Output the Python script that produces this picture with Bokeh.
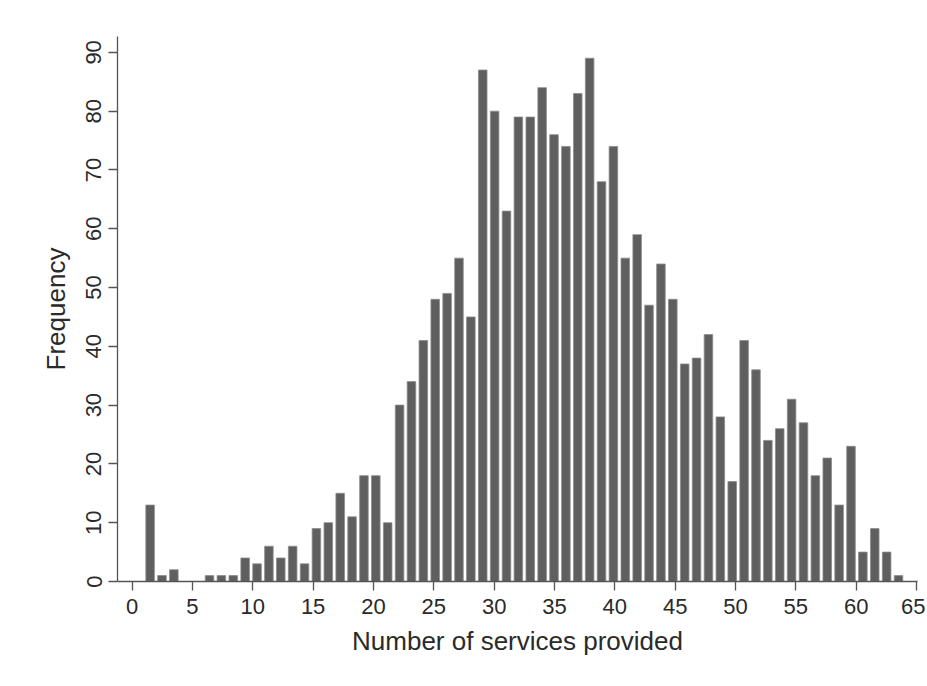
from bokeh.plotting import figure
from bokeh.models import FixedTicker, Range1d, ColumnDataSource
from bokeh.embed import file_html
from bokeh.resources import INLINE

# Histogram of "Number of services provided": 64 bins between min=1 and max=64
data_min = 1
data_max = 64
n_bins = 64
counts = [13, 1, 2, 0, 0, 1, 1, 1, 4, 3,
          6, 4, 6, 3, 9, 10, 15, 11, 18, 18,
          10, 30, 34, 41, 48, 49, 55, 45, 87, 80,
          63, 79, 79, 84, 76, 74, 83, 89, 68, 74,
          55, 59, 47, 54, 48, 37, 38, 42, 28, 17,
          41, 36, 24, 26, 31, 27, 18, 21, 13, 23,
          5, 9, 5, 1]
x_ticks = list(range(0, 70, 5))
y_ticks = list(range(0, 100, 10))

bin_w = (data_max - data_min) / n_bins
centers = [data_min + bin_w * (k + 0.5) for k in range(n_bins)]
src = ColumnDataSource(dict(x=centers, top=counts))

FONT = "Liberation Sans"
TXT = "#2a2a2a"

p = figure(width=925, height=684, output_backend="svg", toolbar_location=None,
           x_range=Range1d(-1.21, 65.08), y_range=Range1d(0, 92.7),
           min_border_left=117, min_border_right=8, min_border_top=36,
           min_border_bottom=103)
p.outline_line_color = None
p.grid.visible = False
p.background_fill_color = "white"
p.border_fill_color = "white"

p.vbar(x="x", top="top", bottom=0, width=bin_w * 0.72, source=src,
       fill_color="#5f5f5f", line_color="#8c8c8c", line_width=0.8)

for ax in (p.xaxis[0], p.yaxis[0]):
    ax.axis_line_color = "#555555"
    ax.axis_line_width = 1.3
    ax.major_tick_line_color = "#555555"
    ax.major_tick_line_width = 1.3
    ax.major_tick_out = 9
    ax.major_tick_in = 0
    ax.minor_tick_line_color = None
    ax.major_label_text_font = FONT
    ax.major_label_text_font_size = "22px"
    ax.major_label_text_color = TXT
    ax.axis_label_text_font = FONT
    ax.axis_label_text_font_size = "26px"
    ax.axis_label_text_font_style = "normal"
    ax.axis_label_text_color = TXT

p.xaxis.ticker = FixedTicker(ticks=x_ticks)
p.yaxis.ticker = FixedTicker(ticks=y_ticks)
p.xaxis.axis_label = "Number of services provided"
p.yaxis.axis_label = "Frequency"
p.yaxis.major_label_orientation = "vertical"
p.xaxis.major_label_standoff = 8
p.yaxis.major_label_standoff = 7
p.xaxis.axis_label_standoff = 9
p.yaxis.axis_label_standoff = 13

open("out.html", "w").write(file_html(p, INLINE))
